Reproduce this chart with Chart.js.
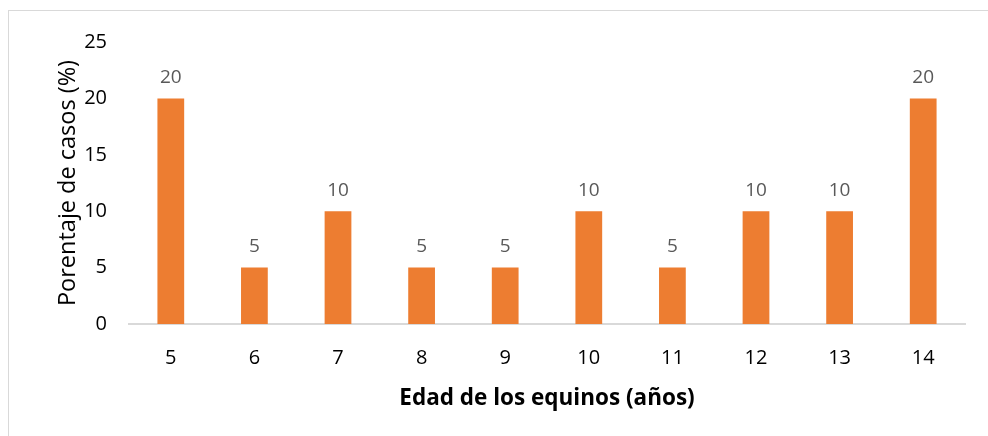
<!DOCTYPE html>
<html>
<head>
<meta charset="utf-8">
<script src="https://cdn.jsdelivr.net/npm/chart.js@4.4.1/dist/chart.umd.min.js"></script>
<style>
  html, body { margin: 0; padding: 0; background: #fff; }
  #wrap { position: relative; width: 988px; height: 436px; }
  #marco { position: absolute; left: 8px; top: 10px; width: 990px; height: 440px;
           border: 1.5px solid #d9d9d9; box-sizing: border-box; }
  canvas { position: absolute; left: 0; top: 0; }
</style>
</head>
<body>
<div id="wrap">
  <div id="marco"></div>
  <canvas id="grafico" width="988" height="436"></canvas>
</div>
<script>
// edades de los equinos (años)
const edades = ["5", "6", "7", "8", "9", "10", "11", "12", "13", "14"];
// porcentaje de casos (%)
const porcentajes = [20, 5, 10, 5, 5, 10, 5, 10, 10, 20];
const ticksY = [0, 5, 10, 15, 20, 25];

const naranja = "#ED7D31";
const fuente = "'Open Sans', 'Liberation Sans', sans-serif";

// etiquetas de valor encima de cada barra
const etiquetasValor = {
  id: "etiquetasValor",
  afterDatasetsDraw(chart) {
    const ctx = chart.ctx;
    const meta = chart.getDatasetMeta(0);
    ctx.save();
    ctx.fillStyle = "#595959";
    ctx.font = "19px " + fuente;
    ctx.textAlign = "center";
    ctx.textBaseline = "middle";
    meta.data.forEach((barra, i) => {
      ctx.fillText(String(porcentajes[i]), barra.x, barra.y - 21);
    });
    ctx.restore();
  }
};

new Chart(document.getElementById("grafico"), {
  type: "bar",
  data: {
    labels: edades,
    datasets: [{
      data: porcentajes,
      backgroundColor: naranja,
      borderWidth: 0,
      barPercentage: 1,
      categoryPercentage: 0.32
    }]
  },
  options: {
    responsive: false,
    animation: false,
    events: [],
    layout: { padding: { left: 54, right: 23, top: 42, bottom: 12 } },
    plugins: {
      legend: { display: false },
      tooltip: { enabled: false }
    },
    scales: {
      x: {
        grid: { display: false, drawTicks: false },
        border: { display: true, color: "#d9d9d9", width: 2 },
        ticks: { color: "#000", font: { family: fuente, size: 20 }, padding: 22, maxRotation: 0 },
        title: {
          display: true,
          text: "Edad de los equinos (años)",
          color: "#000",
          font: { family: fuente, size: 22.5, weight: "bold" },
          padding: { top: 8, bottom: 12 }
        },
        afterFit(scale) { scale.height = 100; }
      },
      y: {
        min: 0,
        max: 25,
        grid: { display: false, drawTicks: false },
        border: { display: false },
        afterBuildTicks(scale) { scale.ticks = ticksY.map(v => ({ value: v })); },
        ticks: { color: "#000", font: { family: fuente, size: 20 }, padding: 22 },
        title: {
          display: true,
          text: "Porentaje de casos (%)",
          color: "#000",
          font: { family: fuente, size: 23.5 },
          padding: { top: 0, bottom: 0 }
        },
        afterFit(scale) { scale.width = 75; }
      }
    }
  },
  plugins: [etiquetasValor]
});
</script>
</body>
</html>
